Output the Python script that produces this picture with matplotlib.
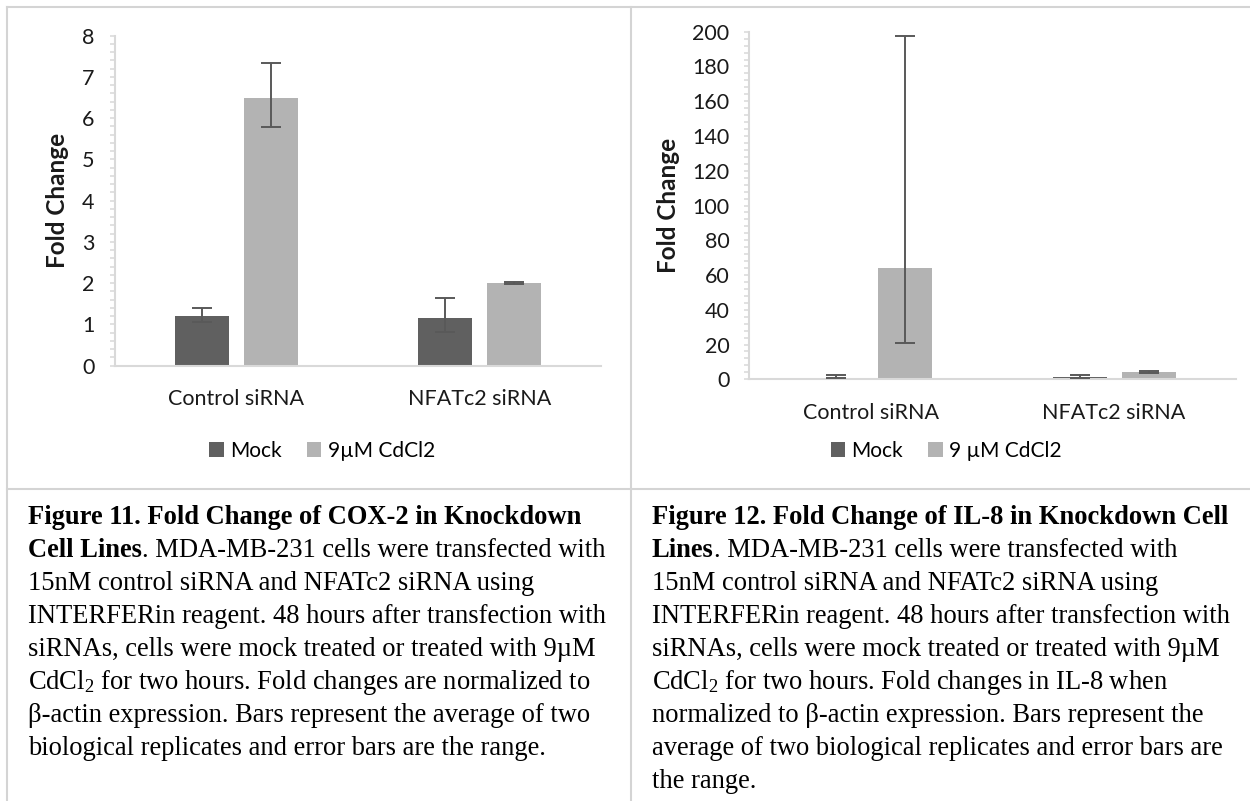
import matplotlib
matplotlib.use("Agg")
import matplotlib.pyplot as plt
from matplotlib.lines import Line2D
from matplotlib.patches import Patch
import numpy as np

plt.rcParams['mathtext.fontset'] = 'custom'
plt.rcParams['mathtext.rm'] = 'Liberation Serif'
plt.rcParams['mathtext.it'] = 'Liberation Serif:italic'

# ---------------- data ----------------
categories = ["Control siRNA", "NFATc2 siRNA"]

# Figure 11: COX-2
cox_mock = [1.21, 1.15]
cox_mock_lo = [1.07, 0.82]
cox_mock_hi = [1.39, 1.63]
cox_cd = [6.50, 2.01]
cox_cd_lo = [5.79, 1.99]
cox_cd_hi = [7.33, 2.03]
cox_yticks = [0, 1, 2, 3, 4, 5, 6, 7, 8]

# Figure 12: IL-8
il8_mock = [1.0, 1.5]
il8_mock_lo = [0.5, 1.0]
il8_mock_hi = [2.3, 2.2]
il8_cd = [64.2, 4.1]
il8_cd_lo = [20.7, 3.4]
il8_cd_hi = [197.7, 4.9]
il8_yticks = [0, 20, 40, 60, 80, 100, 120, 140, 160, 180, 200]

legend_left = ["Mock", "9µM CdCl2"]
legend_right = ["Mock", "9 µM CdCl2"]

cap_left = [
    ("Figure 11. Fold Change of COX-2 in Knockdown", ""),
    ("Cell Lines", ". MDA-MB-231 cells were transfected with"),
    ("", "15nM control siRNA and NFATc2 siRNA using"),
    ("", "INTERFERin reagent. 48 hours after transfection with"),
    ("", "siRNAs, cells were mock treated or treated with 9µM"),
    ("", "CdCl$_2$ for two hours. Fold changes are normalized to"),
    ("", "β-actin expression. Bars represent the average of two"),
    ("", "biological replicates and error bars are the range."),
]
cap_right = [
    ("Figure 12. Fold Change of IL-8 in Knockdown Cell", ""),
    ("Lines", ". MDA-MB-231 cells were transfected with"),
    ("", "15nM control siRNA and NFATc2 siRNA using"),
    ("", "INTERFERin reagent. 48 hours after transfection with"),
    ("", "siRNAs, cells were mock treated or treated with 9µM"),
    ("", "CdCl$_2$ for two hours. Fold changes in IL-8 when"),
    ("", "normalized to β-actin expression. Bars represent the"),
    ("", "average of two biological replicates and error bars are"),
    ("", "the range."),
]

# ---------------- style ----------------
W, H = 1250, 801
DARK = "#606060"
LIGHT = "#b3b3b3"
ERR = "#595959"
SPINE = "#d9d9d9"
TXT = "#1a1a1a"
SANS = "Lato"

fig = plt.figure(figsize=(W / 100, H / 100), dpi=100)
fig.patch.set_facecolor("white")


def px_rect(x0, y_top, x1, y_bot):
    return [x0 / W, 1 - y_bot / H, (x1 - x0) / W, (y_bot - y_top) / H]


def draw_chart(rect, mock, mlo, mhi, cd, clo, chi, yticks, minor_step, legend_labels, legend_xy):
    ax = fig.add_axes(rect)
    x = np.arange(len(categories))
    bw = 0.222
    off = 0.142
    ax.bar(x - off, mock, width=bw, color=DARK, zorder=2)
    ax.bar(x + off, cd, width=bw, color=LIGHT, zorder=2)
    m = np.array(mock); c = np.array(cd)
    ax.errorbar(x - off, m, yerr=[m - np.array(mlo), np.array(mhi) - m], fmt="none",
                ecolor=ERR, elinewidth=1.4, capsize=7.5, capthick=1.4, zorder=3)
    ax.errorbar(x + off, c, yerr=[c - np.array(clo), np.array(chi) - c], fmt="none",
                ecolor=ERR, elinewidth=1.4, capsize=7.5, capthick=1.4, zorder=3)
    ax.set_xlim(-0.5, len(categories) - 0.5)
    ax.set_ylim(yticks[0], yticks[-1])
    ax.set_yticks(yticks)
    ax.set_yticks(np.arange(yticks[0], yticks[-1] + 1e-9, minor_step), minor=True)
    ax.set_xticks(x)
    ax.set_xticklabels(categories, fontfamily=SANS, fontsize=15.5, color=TXT)
    for lab in ax.get_yticklabels():
        lab.set_fontfamily(SANS); lab.set_fontsize(15.5); lab.set_color(TXT)
    for s in ["top", "right"]:
        ax.spines[s].set_visible(False)
    for s in ["left", "bottom"]:
        ax.spines[s].set_color(SPINE)
        ax.spines[s].set_linewidth(1.5)
    ax.tick_params(axis="y", which="both", direction="out", length=3.5, width=1.1,
                   color=SPINE, pad=11)
    ax.tick_params(axis="x", which="both", length=0, pad=17)
    ax.set_ylabel("Fold Change", fontfamily=SANS, fontsize=17.5, fontweight="bold", color=TXT)
    handles = [Patch(facecolor=DARK), Patch(facecolor=LIGHT)]
    fig.legend(handles, legend_labels, loc="center",
               bbox_to_anchor=(legend_xy[0] / W, 1 - legend_xy[1] / H),
               ncol=2, frameon=False, handlelength=0.7, handleheight=0.75,
               handletextpad=0.3, columnspacing=1.2,
               prop={"family": SANS, "size": 15})
    return ax


axL = draw_chart(px_rect(114.8, 35.7, 601, 365.7), cox_mock, cox_mock_lo, cox_mock_hi,
                 cox_cd, cox_cd_lo, cox_cd_hi, cox_yticks, 0.2, legend_left, (322, 451))
axR = draw_chart(px_rect(749.4, 31.7, 1235.6, 379.3), il8_mock, il8_mock_lo, il8_mock_hi,
                 il8_cd, il8_cd_lo, il8_cd_hi, il8_yticks, 4, legend_right, (946, 451))

axL.yaxis.set_label_coords(58 / W, 1 - 200.7 / H, transform=fig.transFigure)
axR.yaxis.set_label_coords(669 / W, 1 - 205.5 / H, transform=fig.transFigure)
axL.yaxis.label.set_va("center")
axR.yaxis.label.set_va("center")

# ---------------- table borders ----------------
BCOL = "#d4d4d4"
LW = 1.5
fig.add_artist(Line2D([7 / W, 1], [1 - 7 / H, 1 - 7 / H], color=BCOL, lw=LW, transform=fig.transFigure))
fig.add_artist(Line2D([7 / W, 7 / W], [0, 1 - 7 / H], color=BCOL, lw=LW, transform=fig.transFigure))
fig.add_artist(Line2D([630.5 / W, 630.5 / W], [0, 1 - 7 / H], color=BCOL, lw=LW, transform=fig.transFigure))
fig.add_artist(Line2D([7 / W, 1], [1 - 489 / H, 1 - 489 / H], color=BCOL, lw=LW, transform=fig.transFigure))

# ---------------- captions ----------------
SERIF = "Liberation Serif"
CFS = 19.1
renderer = fig.canvas.get_renderer()


def draw_caption(lines, x0):
    for i, (b, r) in enumerate(lines):
        yb = 1 - (524 + 33.0 * i) / H
        xr = x0 / W
        if b:
            t = fig.text(x0 / W, yb, b, fontfamily=SERIF, fontsize=CFS, fontweight="bold",
                         va="baseline", ha="left", color="black")
            bb = t.get_window_extent(renderer=renderer)
            xr = bb.x1 / W
        if r:
            fig.text(xr, yb, r, fontfamily=SERIF, fontsize=CFS, va="baseline", ha="left",
                     color="black")


draw_caption(cap_left, 28)
draw_caption(cap_right, 652)

fig.savefig("out.png", dpi=100, facecolor="white")
